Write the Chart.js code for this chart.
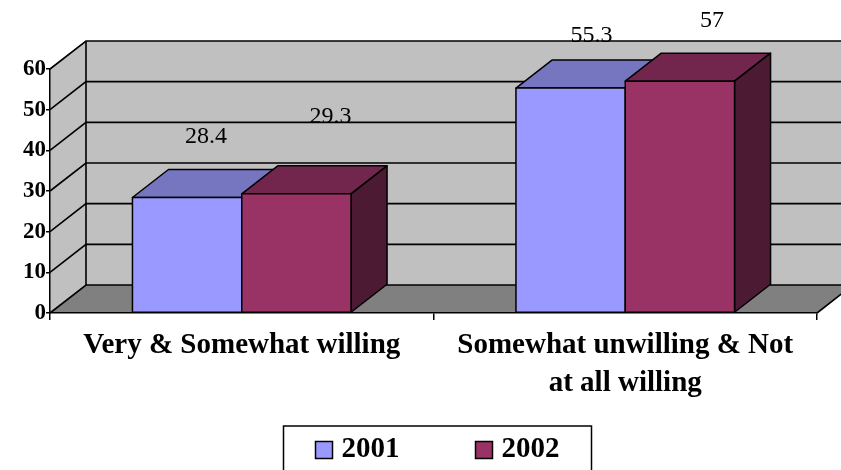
<!DOCTYPE html>
<html>
<head>
<meta charset="utf-8">
<style>
  html, body { margin: 0; padding: 0; background: #fff; }
  #wrap { width: 841px; height: 470px; position: relative; overflow: hidden; }
</style>
<script src="https://cdn.jsdelivr.net/npm/chart.js@4/dist/chart.umd.min.js"></script>
</head>
<body>
<div id="wrap"><canvas id="c" width="841" height="470"></canvas></div>
<script>
// ---- data ----
const categories = [
  ['Very & Somewhat willing'],
  ['Somewhat unwilling & Not', 'at all willing']
];
const seriesNames = ['2001', '2002'];
const values2001 = [28.4, 55.3];
const values2002 = [29.3, 57];
const yTicks = [0, 10, 20, 30, 40, 50, 60];

// ---- styling ----
const SERIF = '"Liberation Serif", "Times New Roman", serif';
const DX = 36;   // depth of the 3-D box, horizontal
const DY = 28;   // depth of the 3-D box, vertical
const faceColors = [
  { front: '#9999ff', top: '#7676c0', side: '#4d4d80' },
  { front: '#993366', top: '#73264d', side: '#4d1a33' }
];
// value-label offsets from each bar's top centre, [series][category] -> [dx, dy]
const labelNudge = [
  [[19, -55], [21, -46]],
  [[34, -71], [32, -54]]
];

function poly(ctx, pts, fill) {
  ctx.beginPath();
  ctx.moveTo(pts[0][0], pts[0][1]);
  for (let i = 1; i < pts.length; i++) ctx.lineTo(pts[i][0], pts[i][1]);
  ctx.closePath();
  ctx.fillStyle = fill;
  ctx.fill();
  ctx.stroke();
}

const box3d = {
  id: 'box3d',
  beforeDraw(chart) {
    const { ctx, chartArea: a, scales: { y } } = chart;
    const L = a.left, R = a.right, T = a.top, B = a.bottom;
    ctx.save();
    ctx.fillStyle = '#fff';
    ctx.fillRect(0, 0, chart.width, chart.height);

    // walls
    ctx.fillStyle = '#c0c0c0';
    ctx.fillRect(L + DX, T - DY, R - L, B - T);
    ctx.beginPath();
    ctx.moveTo(L, B); ctx.lineTo(L + DX, B - DY); ctx.lineTo(L + DX, T - DY); ctx.lineTo(L, T);
    ctx.closePath(); ctx.fill();

    // floor
    ctx.fillStyle = '#808080';
    ctx.beginPath();
    ctx.moveTo(L, B); ctx.lineTo(R, B); ctx.lineTo(R + DX, B - DY); ctx.lineTo(L + DX, B - DY);
    ctx.closePath(); ctx.fill();

    // value labels
    ctx.fillStyle = '#000';
    ctx.font = '24px ' + SERIF;
    ctx.textAlign = 'center';
    ctx.textBaseline = 'alphabetic';
    chart.data.datasets.forEach((ds, si) => {
      chart.getDatasetMeta(si).data.forEach((bar, ci) => {
        const n = labelNudge[si][ci];
        ctx.fillText(String(ds.data[ci]), bar.x + n[0], bar.y + n[1]);
      });
    });

    // gridlines on side and back wall
    ctx.strokeStyle = '#000';
    ctx.lineWidth = 1.6;
    y.ticks.forEach(t => {
      const py = y.getPixelForValue(t.value);
      ctx.beginPath();
      ctx.moveTo(L, py); ctx.lineTo(L + DX, py - DY); ctx.lineTo(R + DX, py - DY);
      ctx.stroke();
    });
    ctx.beginPath();
    ctx.moveTo(L + DX, T - DY); ctx.lineTo(L + DX, B - DY);
    ctx.moveTo(R, B); ctx.lineTo(R + DX, B - DY);
    ctx.stroke();
    ctx.restore();
  },
  // bars as solid boxes: series drawn front-to-back in series order so
  // each later box covers the side of the one before it
  afterDatasetsDraw(chart) {
    const { ctx } = chart;
    ctx.save();
    ctx.strokeStyle = '#000';
    ctx.lineWidth = 1.5;
    ctx.lineJoin = 'round';
    const nCat = chart.data.labels.length;
    for (let ci = 0; ci < nCat; ci++) {
      chart.data.datasets.forEach((ds, si) => {
        const c = faceColors[si];
        const bar = chart.getDatasetMeta(si).data[ci];
        const { x, y, base, width } = bar.getProps(['x', 'y', 'base', 'width'], true);
        const l = x - width / 2, r = x + width / 2;
        poly(ctx, [[l, y], [r, y], [r + DX, y - DY], [l + DX, y - DY]], c.top);
        poly(ctx, [[r, y], [r, base], [r + DX, base - DY], [r + DX, y - DY]], c.side);
        poly(ctx, [[l, y], [r, y], [r, base], [l, base]], c.front);
      });
    }
    ctx.restore();
  },
  afterDraw(chart) {
    const { ctx, chartArea: a } = chart;
    ctx.save();
    ctx.font = 'bold 29px ' + SERIF;
    const BOX = 17, GAP_T = 9, GAP_I = 76, PAD = 32;
    const items = chart.data.datasets.map(ds => ({
      text: ds.label, color: ds.backgroundColor, w: ctx.measureText(ds.label).width
    }));
    const contentW = items.reduce((s, it) => s + BOX + GAP_T + it.w, 0) + GAP_I * (items.length - 1);
    const cx = (a.left + a.right) / 2 + 4;
    let x = cx - contentW / 2;
    const top = 426, mid = 450;
    ctx.strokeStyle = '#000';
    ctx.lineWidth = 1.5;
    ctx.strokeRect(x - PAD, top, contentW + 2 * PAD, 80);
    ctx.textAlign = 'left';
    ctx.textBaseline = 'middle';
    items.forEach(it => {
      ctx.fillStyle = it.color;
      ctx.fillRect(x, mid - BOX / 2, BOX, BOX);
      ctx.strokeRect(x, mid - BOX / 2, BOX, BOX);
      x += BOX + GAP_T;
      ctx.fillStyle = '#000';
      ctx.fillText(it.text, x, mid);
      x += it.w + GAP_I;
    });
    ctx.restore();
  }
};

new Chart(document.getElementById('c'), {
  type: 'bar',
  data: {
    labels: categories,
    datasets: [
      { label: seriesNames[0], data: values2001, backgroundColor: faceColors[0].front,
        borderColor: '#000', borderWidth: 1.5, categoryPercentage: 0.57, barPercentage: 1 },
      { label: seriesNames[1], data: values2002, backgroundColor: faceColors[1].front,
        borderColor: '#000', borderWidth: 1.5, categoryPercentage: 0.57, barPercentage: 1 }
    ]
  },
  options: {
    responsive: false,
    animation: false,
    devicePixelRatio: 1,
    layout: { padding: { top: 69, left: 0, right: 24, bottom: 0 } },
    plugins: { legend: { display: false }, tooltip: { enabled: false } },
    scales: {
      x: {
        grid: { drawOnChartArea: false, tickLength: 7, color: '#000', lineWidth: 1.5, offset: true },
        border: { color: '#000', width: 1.5 },
        ticks: {
          color: '#000', padding: 7, maxRotation: 0, autoSkip: false,
          font: { family: SERIF, size: 29, weight: 'bold', lineHeight: '38px' }
        },
        afterFit(s) { s.height = 157; }
      },
      y: {
        min: 0, max: 60,
        afterBuildTicks(s) { s.ticks = yTicks.map(v => ({ value: v })); },
        grid: { drawOnChartArea: false, tickLength: 4, color: '#000', lineWidth: 1.5 },
        border: { color: '#000', width: 1.5 },
        ticks: { color: '#000', padding: 0, font: { family: SERIF, size: 23, weight: 'bold' } },
        afterFit(s) { s.width = 50; }
      }
    }
  },
  plugins: [box3d]
});
</script>
</body>
</html>
